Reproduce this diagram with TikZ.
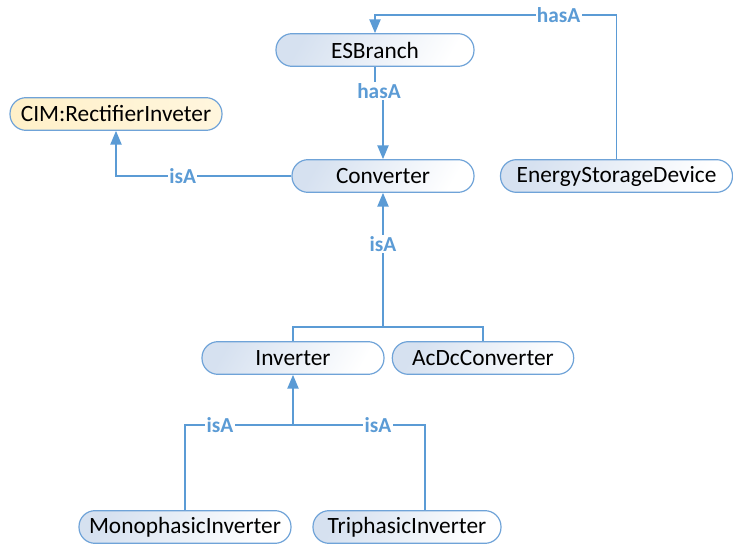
\documentclass[tikz,border=0pt]{standalone}
\usepackage{fontspec}
\setmainfont{Carlito}
\usetikzlibrary{arrows}

\definecolor{relblue}{HTML}{5B9BD5}
\definecolor{clsline}{HTML}{6FA3D8}
\definecolor{clsfill}{HTML}{D6E1F0}
\definecolor{cimfill}{HTML}{FFF0C8}

\tikzset{
    cls/.style={draw=clsline, line width=0.9pt, rounded corners=12pt,
        minimum height=24.5pt, minimum width=#1, inner sep=0pt,
        left color=clsfill, right color=white, shading angle=60,
        font=\fontsize{17.5}{20}\selectfont},
    cim/.style={cls=#1, left color=cimfill, right color=cimfill!60!white},
    rel/.style={draw=relblue, line width=1.4pt, >=triangle 45},
    lbl/.style={fill=white, text=relblue, inner sep=1pt,
        font=\fontsize{16}{18}\selectfont\bfseries},
}

\begin{document}
\begin{tikzpicture}[x=0.75pt, y=-0.75pt]
        \useasboundingbox (0,0) rectangle (733,545);
        % classes
        \node[cls=148.5pt] (esbranch) at (375,50) {ESBranch};
        \node[cim=159pt] (cim) at (116,114) {CIM:RectifierInveter};
        \node[cls=136.5pt] (converter) at (383,176) {Converter};
        \node[cls=174pt] (esd) at (616.5,176) {EnergyStorageDevice};
        \node[cls=136.5pt] (inverter) at (293,358) {Inverter};
        \node[cls=136pt] (acdc) at (483,358) {AcDcConverter};
        \node[cls=159pt] (mono) at (185,527) {MonophasicInverter};
        \node[cls=141pt] (tri) at (407,527) {TriphasicInverter};
        % bends
        \coordinate (top) at (375,15);
        \coordinate (join1) at (383,327);
        \coordinate (join2) at (293,425);
        \coordinate (trijoin) at (425,425);
        % relations
        \draw[rel,->] (esd.north) |- node[lbl, pos=0.62]{hasA} (top) -- (esbranch.north);
        \draw[rel,->] (esbranch.south) -- ++(0,24) node[lbl, xshift=3pt]{hasA} -| (converter.north);
        \draw[rel,->] (converter.west) -| node[lbl, pos=0.31]{isA} (cim.south);
        \draw[rel] (inverter.north) |- (acdc.north |- join1) -- (acdc.north);
        \draw[rel,->] (join1) -- node[lbl, pos=0.62]{isA} (converter.south);
        \draw[rel] (mono.north) |- node[lbl, pos=0.573]{isA} node[lbl, pos=0.902]{isA} (trijoin) -- (trijoin |- tri.north);
        \draw[rel,->] (join2) -- (inverter.south);
    \end{tikzpicture}
\end{document}
